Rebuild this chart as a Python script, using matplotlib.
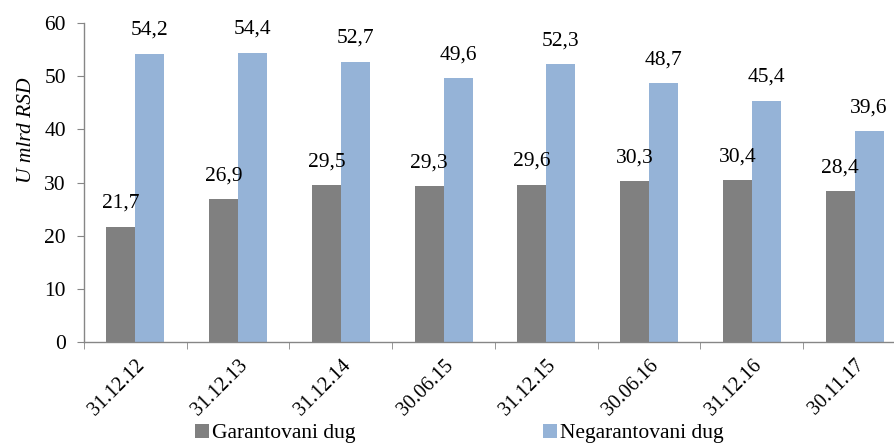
import matplotlib
matplotlib.use("Agg")
import matplotlib.pyplot as plt
import numpy as np

categories = ["31.12.12", "31.12.13", "31.12.14", "30.06.15", "31.12.15", "30.06.16", "31.12.16", "30.11.17"]
garantovani = [21.7, 26.9, 29.5, 29.3, 29.6, 30.3, 30.4, 28.4]
negarantovani = [54.2, 54.4, 52.7, 49.6, 52.3, 48.7, 45.4, 39.6]
series_names = ["Garantovani dug", "Negarantovani dug"]
yticks = [0, 10, 20, 30, 40, 50, 60]

plt.rcParams['font.family'] = ['Liberation Serif', 'DejaVu Serif']
W, H = 895, 445
fig = plt.figure(figsize=(W/100, H/100), dpi=100)
left, right, bottom, top = 84, 906, 342, 23
ax = fig.add_axes([left/W, (H-bottom)/H, (right-left)/W, (bottom-top)/H])

FS = 15.5
x = np.arange(len(categories))
bw = 29/103
c1, c2 = "#808080", "#95B3D7"
b1 = ax.bar(x - bw/2, garantovani, bw, color=c1, label=series_names[0])
b2 = ax.bar(x + bw/2, negarantovani, bw, color=c2, label=series_names[1])

for xi, v in zip(x - bw/2, garantovani):
    ax.text(xi, v + 2.6, f"{v:.1f}".replace(".", ","), ha="center", va="bottom", fontsize=FS)
for xi, v in zip(x + bw/2, negarantovani):
    ax.text(xi, v + 2.6, f"{v:.1f}".replace(".", ","), ha="center", va="bottom", fontsize=FS)

ax.set_xlim(-0.5, len(categories) - 0.5)
ax.set_ylim(0, 60)
ax.set_yticks(yticks)
ax.set_yticklabels([str(t) for t in yticks], fontsize=FS)
ax.set_xticks(x)
ax.set_xticklabels(categories, rotation=45, ha="right", rotation_mode="anchor", fontsize=14.5)
ax.set_xticks(np.arange(len(categories) + 1) - 0.5, minor=True)
ax.tick_params(axis="x", which="major", length=0, pad=10)
ax.tick_params(axis="x", which="minor", length=5, color="#868686", direction="out")
ax.tick_params(axis="y", length=5, color="#868686", direction="out", pad=8)
for s in ["top", "right"]:
    ax.spines[s].set_visible(False)
for s in ["left", "bottom"]:
    ax.spines[s].set_color("#868686")
    ax.spines[s].set_linewidth(1.0)

ax.set_ylabel("U mlrd RSD", fontsize=FS, style="italic", va="center")
ax.yaxis.set_label_coords((26 - left) / (right - left), (bottom - 130) / (bottom - top))

fig.legend(handles=[b1, b2], labels=series_names, loc="lower center", bbox_to_anchor=(0.513, -0.04),
           ncol=2, frameon=False, fontsize=FS, handlelength=0.65, handleheight=0.65,
           handletextpad=0.15, columnspacing=8.7)

fig.savefig("out.png", dpi=100)
